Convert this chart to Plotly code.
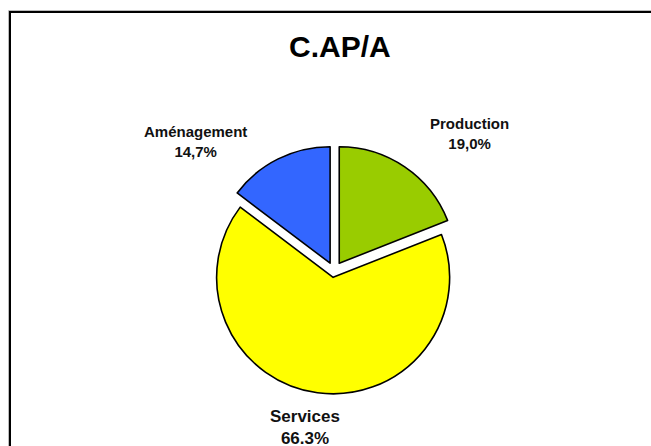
import plotly.graph_objects as go

W, H = 651, 446

# Data
categories = ["Production", "Services", "Aménagement"]
values = [19.0, 66.3, 14.7]
pct_labels = ["19,0%", "66.3%", "14,7%"]
colors = ["#99CC00", "#FFFF00", "#3366FF"]
title_text = "C.AP/A"


def px_x(x):
    return x / W


def px_y(y):
    return 1 - y / H


# pie geometry (screen pixels)
cx, cy, r = 334, 271, 116.5
pulls = [0.08, 0.055, 0.075]
half = r * (1 + max(pulls))

fig = go.Figure(
    go.Pie(
        labels=categories,
        values=values,
        sort=False,
        direction="clockwise",
        rotation=0,
        pull=pulls,
        marker=dict(colors=colors, line=dict(color="black", width=1.6)),
        textinfo="none",
        hoverinfo="label+percent",
        showlegend=False,
        domain=dict(
            x=[px_x(cx - half), px_x(cx + half)],
            y=[px_y(cy + half), px_y(cy - half)],
        ),
    )
)

label_pos = [(469, 133, 15), (305, 427, 17), (195, 141, 15)]
annotations = []
for name, pct, (lx, ly, fs) in zip(categories, pct_labels, label_pos):
    annotations.append(
        dict(
            text=f"<b>{name}</b><br><b>{pct}</b>",
            x=px_x(lx), y=px_y(ly), xref="paper", yref="paper",
            xanchor="center", yanchor="middle", showarrow=False,
            font=dict(family="Liberation Sans, Arial", size=fs, color="#111111"),
        )
    )
annotations.append(
    dict(
        text=f"<b>{title_text}</b>",
        x=px_x(340), y=px_y(47), xref="paper", yref="paper",
        xanchor="center", yanchor="middle", showarrow=False,
        font=dict(family="Liberation Sans, Arial", size=30, color="black"),
    )
)

fig.update_layout(
    width=W, height=H,
    margin=dict(l=0, r=0, t=0, b=0),
    paper_bgcolor="white",
    plot_bgcolor="white",
    annotations=annotations,
    shapes=[
        dict(type="rect", xref="paper", yref="paper",
             x0=px_x(8.5), x1=1.1, y0=-0.1, y1=px_y(10.5),
             line=dict(color="#BBBBBB", width=1)),
        dict(type="rect", xref="paper", yref="paper",
             x0=px_x(10), x1=1.1, y0=-0.1, y1=px_y(12),
             line=dict(color="black", width=2)),
    ],
)

fig.write_html(
    "out.html",
    config={"displayModeBar": False},
    post_script="document.body.style.margin='0';document.body.style.overflow='hidden';",
)
